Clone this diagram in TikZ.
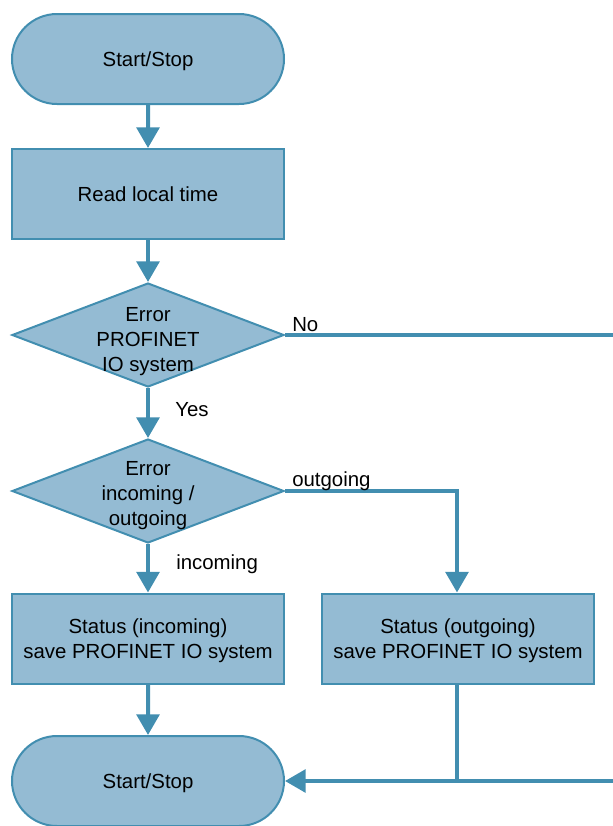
\documentclass[tikz,border=0pt]{standalone}
\usepackage{fontspec}
\setmainfont{Liberation Sans}
\usepackage{tikz}
\usetikzlibrary{arrows.meta}
\usetikzlibrary{positioning, shapes, shapes.geometric, shapes.misc}
\definecolor{flowfill}{RGB}{148,187,211}
\definecolor{flowline}{RGB}{66,142,176}
\tikzset{
    base/.style={draw=flowline, fill=flowfill, line width=1.5pt, inner sep=0pt, text depth=0pt,
        font=\fontsize{15.3}{18.8}\selectfont, align=center, text=black},
    term/.style={base, rounded rectangle, minimum width=204pt, minimum height=67.5pt},
    proc/.style={base, rectangle, minimum width=204pt, minimum height=67.5pt},
    dec/.style={base, diamond, minimum width=204pt, minimum height=78pt},
    lbl/.style={font=\fontsize{15.3}{18.8}\selectfont, inner sep=0pt, text=black},
    flow/.style={draw=flowline, line width=3pt},
    arr/.style={flow, -{Triangle[length=15.5pt, width=17pt]}}
}
\begin{document}
\begin{tikzpicture}[x=0.75pt, y=-0.75pt]
    \useasboundingbox (0,0) rectangle (613,826);
    % nodes
    \node[term] (start) at (148,59) {Start/Stop};
    \node[proc] (read) at (148,194) {Read local time};
    \node[dec] (err) at (148,335) {};
    \node[lbl, align=center] (errtxt) at (148,342) {Error\\PROFINET\\IO system};
    \node[dec] (dir) at (148,491) {};
    \node[lbl, align=center] (dirtxt) at (148,496) {Error\\incoming /\\outgoing};
    \node[proc] (stin) at (148,638.5) {Status (incoming)\\save PROFINET IO system};
    \node[proc] (stout) at (458,638.5) {Status (outgoing)\\save PROFINET IO system};
    \node[term] (stop) at (148,781) {Start/Stop};
    \coordinate (noend) at (613,335);
    \coordinate (back) at (613,781);
    \coordinate (outcorner) at (457,491);
    \coordinate (join) at (457,781);
    % connectors
    \draw[arr] (start) -- (read);
    \draw[arr] (read) -- (err);
    \draw[flow] (err.east) -- (noend);
    \draw[arr] (err) -- (dir);
    \draw[arr] (dir.east) -- (outcorner) -- (stout.north -| outcorner);
    \draw[arr] (dir) -- (stin);
    \draw[arr] (stin) -- (stop);
    \draw[flow] (stout.south -| join) -- (join);
    \draw[arr] (back) -- (stop.east);
    % labels
    \node[lbl, anchor=base west] (no) at (292,331) {No};
    \node[lbl, anchor=base west] (yes) at (175,416) {Yes};
    \node[lbl, anchor=base west] (outg) at (292,486) {outgoing};
    \node[lbl, anchor=base west] (inc) at (176,569) {incoming};
\end{tikzpicture}
\end{document}
